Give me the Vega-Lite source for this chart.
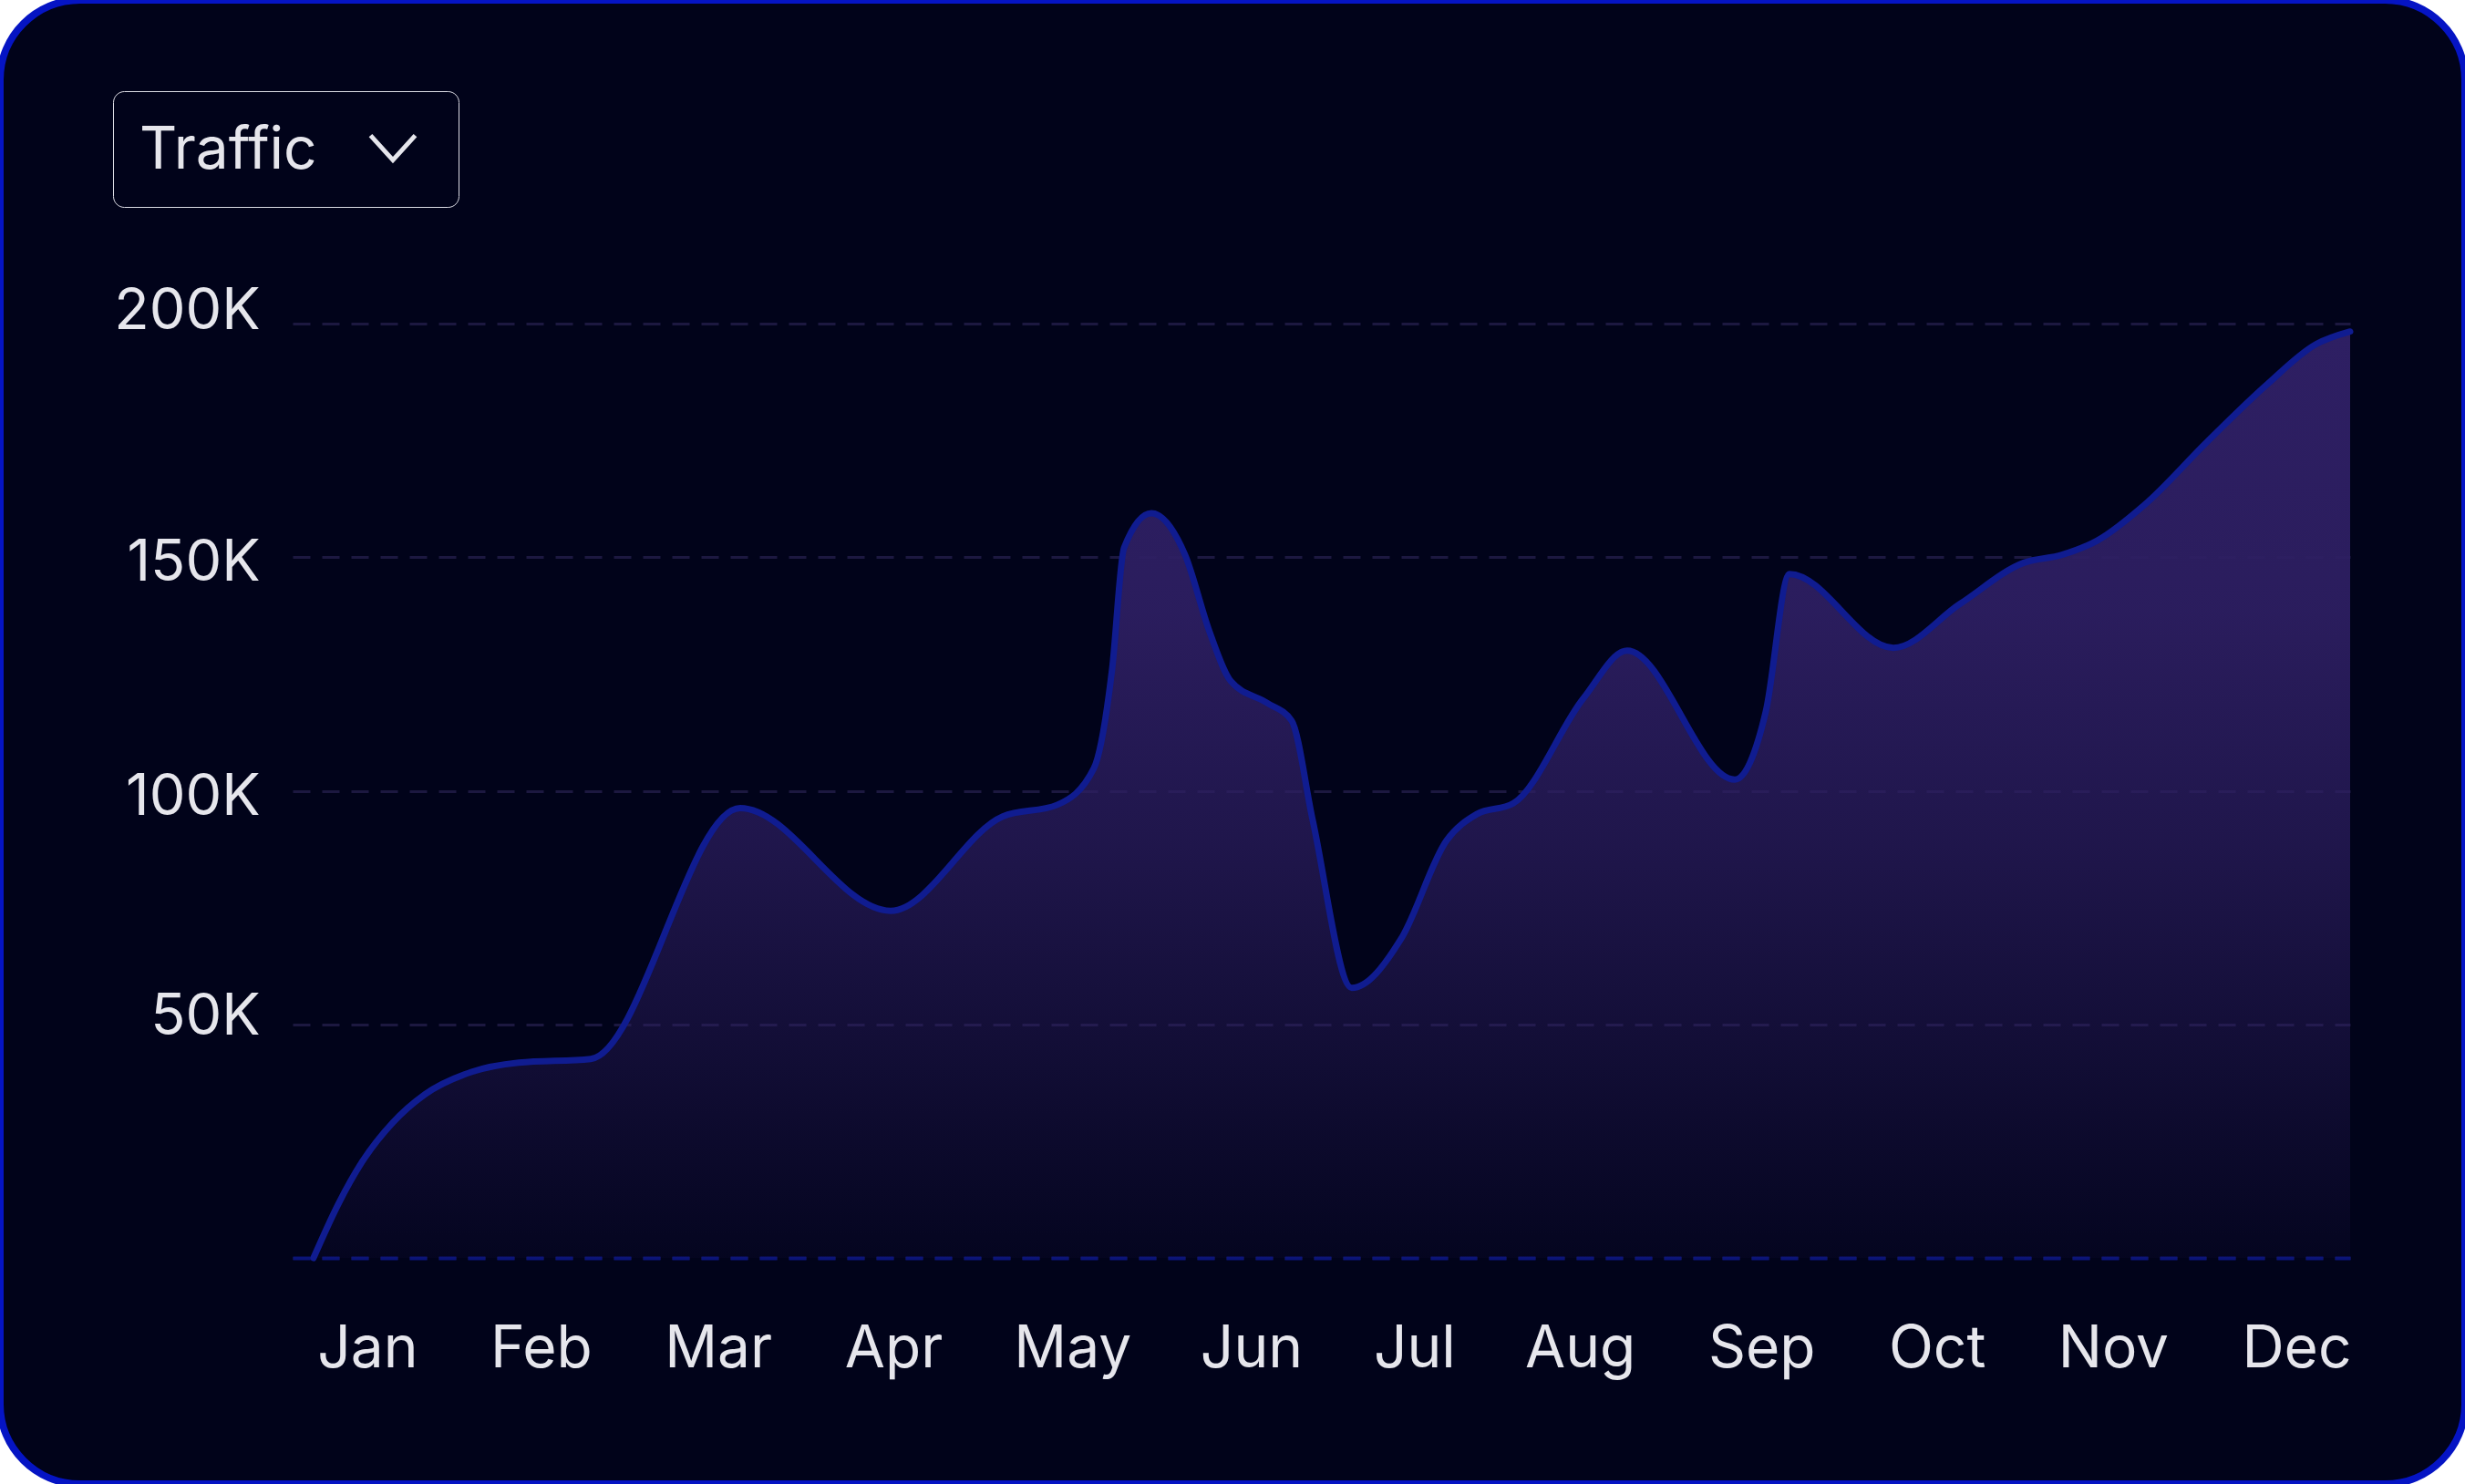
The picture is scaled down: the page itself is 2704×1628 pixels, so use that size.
{
  "$schema": "https://vega.github.io/schema/vega-lite/v6.json",
  "width": 2704,
  "height": 1628,
  "autosize": {"type": "none"},
  "padding": 0,
  "background": "#ffffff",
  "config": {
    "view": {"fill": "#01031a", "stroke": "#0514c4", "strokeWidth": 8, "cornerRadius": 88},
    "font": "Inter"
  },
  "data": {
    "values": [
      {"m": 0.693, "v": 0, "series": "Traffic"},
      {"m": 0.834, "v": 11500, "series": "Traffic"},
      {"m": 0.969, "v": 20500, "series": "Traffic"},
      {"m": 1.146, "v": 29000, "series": "Traffic"},
      {"m": 1.328, "v": 35000, "series": "Traffic"},
      {"m": 1.593, "v": 39800, "series": "Traffic"},
      {"m": 1.863, "v": 41800, "series": "Traffic"},
      {"m": 2.274, "v": 42600, "series": "Traffic"},
      {"m": 3.126, "v": 96300, "series": "Traffic"},
      {"m": 3.984, "v": 74300, "series": "Traffic"},
      {"m": 4.623, "v": 94500, "series": "Traffic"},
      {"m": 4.935, "v": 97000, "series": "Traffic"},
      {"m": 5.143, "v": 104800, "series": "Traffic"},
      {"m": 5.247, "v": 126000, "series": "Traffic"},
      {"m": 5.315, "v": 152000, "series": "Traffic"},
      {"m": 5.471, "v": 159400, "series": "Traffic"},
      {"m": 5.663, "v": 150500, "series": "Traffic"},
      {"m": 5.803, "v": 134000, "series": "Traffic"},
      {"m": 5.923, "v": 123500, "series": "Traffic"},
      {"m": 6.131, "v": 118800, "series": "Traffic"},
      {"m": 6.271, "v": 115000, "series": "Traffic"},
      {"m": 6.391, "v": 93700, "series": "Traffic"},
      {"m": 6.614, "v": 57800, "series": "Traffic"},
      {"m": 6.895, "v": 68300, "series": "Traffic"},
      {"m": 7.155, "v": 89400, "series": "Traffic"},
      {"m": 7.327, "v": 95000, "series": "Traffic"},
      {"m": 7.535, "v": 97300, "series": "Traffic"},
      {"m": 7.935, "v": 119800, "series": "Traffic"},
      {"m": 8.184, "v": 130000, "series": "Traffic"},
      {"m": 8.798, "v": 102400, "series": "Traffic"},
      {"m": 8.975, "v": 117000, "series": "Traffic"},
      {"m": 9.11, "v": 146400, "series": "Traffic"},
      {"m": 9.702, "v": 130600, "series": "Traffic"},
      {"m": 10.082, "v": 140000, "series": "Traffic"},
      {"m": 10.446, "v": 148800, "series": "Traffic"},
      {"m": 10.664, "v": 150500, "series": "Traffic"},
      {"m": 10.862, "v": 153500, "series": "Traffic"},
      {"m": 11.137, "v": 161300, "series": "Traffic"},
      {"m": 11.486, "v": 174500, "series": "Traffic"},
      {"m": 11.834, "v": 187000, "series": "Traffic"},
      {"m": 12.109, "v": 195500, "series": "Traffic"},
      {"m": 12.307, "v": 198300, "series": "Traffic"}
    ]
  },
  "encoding": {
    "x": {
      "field": "m",
      "type": "quantitative",
      "scale": {"domain": [0.574, 12.307], "range": [321, 2578], "nice": false, "zero": false},
      "axis": {
        "orient": "bottom",
        "offset": -248,
        "values": [1, 1.99, 3.0, 4.0, 5.02, 6.04, 6.97, 7.915, 8.95, 9.95, 10.955, 12.0],
        "labelExpr": "['Jan','Feb','Mar','Apr','May','Jun','Jul','Aug','Sep','Oct','Nov','Dec'][round(datum.value) - 1]",
        "title": null,
        "ticks": false,
        "grid": false,
        "domain": true,
        "domainColor": "#0a1478",
        "domainWidth": 4,
        "domainDash": [19, 13],
        "labelFont": "Inter",
        "labelFontSize": 64,
        "labelColor": "#e6e6ec",
        "labelPadding": 68,
        "labelFlush": false,
        "labelOverlap": false
      }
    },
    "y": {
      "field": "v",
      "type": "quantitative",
      "scale": {"domain": [0, 200000], "range": [1380, 355], "nice": false},
      "axis": {
        "orient": "left",
        "offset": -321,
        "values": [0, 50000, 100000, 150000, 200000],
        "labelExpr": "datum.value == 0 ? '' : format(datum.value / 1000, 'd') + 'K'",
        "title": null,
        "ticks": false,
        "domain": false,
        "grid": true,
        "gridColor": "#1c1840",
        "gridWidth": 3,
        "gridDash": [19, 13],
        "labelFont": "Inter",
        "labelFontSize": 63,
        "labelColor": "#e6e6ec",
        "labelPadding": 36,
        "labelBaseline": "middle",
        "labelOffset": {
          "condition": [
            {"test": "datum.value == 200000", "value": -14},
            {"test": "datum.value == 150000", "value": 6},
            {"test": "datum.value == 100000", "value": 7},
            {"test": "datum.value == 50000", "value": -8}
          ],
          "value": 0
        }
      }
    }
  },
  "layer": [
    {
      "mark": {
        "type": "area",
        "interpolate": "monotone",
        "color": {
          "gradient": "linear",
          "x1": 0, "y1": 0, "x2": 0, "y2": 1,
          "stops": [
            {"offset": 0, "color": "rgba(46,31,99,1)"},
            {"offset": 0.3, "color": "rgba(46,31,99,0.92)"},
            {"offset": 0.55, "color": "rgba(46,31,99,0.68)"},
            {"offset": 0.8, "color": "rgba(46,31,99,0.35)"},
            {"offset": 1, "color": "rgba(46,31,99,0.08)"}
          ]
        }
      }
    },
    {
      "mark": {"type": "line", "interpolate": "monotone", "strokeWidth": 7, "strokeCap": "round", "color": "#101c90"}
    },
    {
      "mark": {"type": "text", "text": "", "fill": "transparent"},
      "encoding": {
        "stroke": {
          "field": "series",
          "type": "nominal",
          "scale": {"range": ["#e6e6ec"]},
          "legend": {
            "orient": "none",
            "legendX": 124,
            "legendY": 100,
            "title": "Traffic",
            "titleOrient": "left",
            "titleAnchor": "end",
            "titleFont": "Inter",
            "titleFontSize": 64,
            "titleFontWeight": "normal",
            "titleColor": "#e6e6ec",
            "titleLimit": 600,
            "titlePadding": 56,
            "labelExpr": "''",
            "labelOffset": 16,
            "symbolType": "M0,-1.29M1.29,0M-1,-0.3L0,0.8L1,-0.3M0,1.29",
            "symbolSize": 2401,
            "symbolStrokeWidth": 5,
            "symbolStrokeColor": "#e6e6ec",
            "symbolFillColor": "transparent",
            "strokeColor": "#dcdce4",
            "cornerRadius": 12,
            "padding": 29,
            "encode": {
              "legend": {"strokeWidth": {"value": 2}}
            }
          }
        }
      }
    }
  ]
}
